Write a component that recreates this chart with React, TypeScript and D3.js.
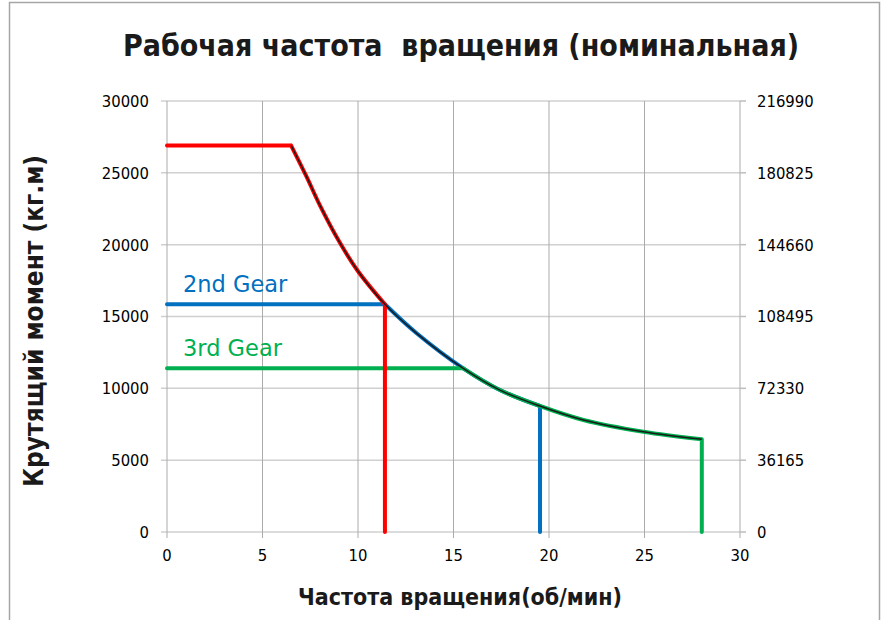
import React from "react";
import * as d3 from "d3";

// chart values
const xTicks = [0, 5, 10, 15, 20, 25, 30];
const yTicks = [0, 5000, 10000, 15000, 20000, 25000, 30000];
const rightTickLabels = ["0", "36165", "72330", "108495", "144660", "180825", "216990"];

// constant power curve (об/мин, кг.м)
const curveRpm = [6.5, 7.3, 8.0, 9.0, 10.0, 11.41, 13.07, 15.51, 17.43, 19.53, 21.8, 24.94, 28.0];
const curveTorque = [26900, 24750, 22750, 20250, 18150, 15850, 13830, 11390, 9880, 8770, 7800, 6980, 6450];

// gears: flat torque level, start of curve portion, cut-off speed
const gearNames = ["1st Gear", "2nd Gear", "3rd Gear"];
const gearTorque = [26900, 15850, 11390];
const gearCurveStart = [6.5, 11.41, 15.51];
const gearCutoff = [11.41, 19.53, 28.0];
const gearColors = ["#ff0000", "#0070c0", "#00b050"];

const W = 884;
const H = 620;
const FONT = "'DejaVu Sans Condensed', 'DejaVu Sans', sans-serif";

const x = d3.scaleLinear().domain([0, 30]).range([167, 740]);
const y = d3.scaleLinear().domain([0, 30000]).range([532, 101]);

const curvePts: [number, number][] = curveRpm.map((n, i) => [n, curveTorque[i]]);

const torqueAt = (n: number) => {
  const i = Math.max(1, d3.bisectLeft(curveRpm, n));
  const t = (n - curveRpm[i - 1]) / (curveRpm[i] - curveRpm[i - 1]);
  return curveTorque[i - 1] + t * (curveTorque[i] - curveTorque[i - 1]);
};

const line = d3
  .line<[number, number]>()
  .x((d) => x(d[0]))
  .y((d) => y(d[1]))
  .curve(d3.curveCatmullRom.alpha(0.5));

function gearPath(g: number) {
  const from = gearCurveStart[g];
  const to = gearCutoff[g];
  const pts: [number, number][] = [[from, torqueAt(from)]];
  curvePts.forEach((p) => {
    if (p[0] > from + 1e-6 && p[0] < to - 1e-6) pts.push(p);
  });
  pts.push([to, torqueAt(to)]);
  const flat = `M${x(0)},${y(gearTorque[g])}L${x(from)},${y(pts[0][1])}`;
  const drop = `M${x(to)},${y(pts[pts.length - 1][1])}L${x(to)},${y(0)}`;
  return flat + line(pts) + drop;
}

export default function App() {
  const order = [1, 2, 0];
  return (
    <svg
      width={W}
      height={H}
      style={{ position: "absolute", left: 0, top: 0, background: "#fff" }}
      fontFamily={FONT}
    >
      <rect x={9.5} y={2.5} width={870} height={640} fill="#fff" stroke="#a6a6a6" strokeWidth={1.5} />

      {/* grid */}
      {yTicks.map((t) => (
        <line key={"h" + t} x1={161} x2={740} y1={y(t)} y2={y(t)} stroke="#d0d0d0" strokeWidth={1.5} />
      ))}
      {xTicks.map((t) => (
        <line key={"v" + t} x1={x(t)} x2={x(t)} y1={y(30000)} y2={538} stroke="#ababab" strokeWidth={1} />
      ))}
      {/* right axis */}
      {yTicks.map((t) => (
        <line key={"r" + t} x1={740} x2={746} y1={y(t)} y2={y(t)} stroke="#bdbdbd" strokeWidth={1.5} />
      ))}

      {/* tick labels */}
      {yTicks.map((t) => (
        <text key={"yl" + t} x={149} y={y(t)} dy="0.36em" textAnchor="end" fontSize={16.5} fill="#000">
          {t}
        </text>
      ))}
      {yTicks.map((t, i) => (
        <text key={"yr" + t} x={757} y={y(t)} dy="0.36em" textAnchor="start" fontSize={16.5} fill="#000">
          {rightTickLabels[i]}
        </text>
      ))}
      {xTicks.map((t) => (
        <text key={"xl" + t} x={x(t)} y={561} textAnchor="middle" fontSize={16.5} fill="#000">
          {t}
        </text>
      ))}

      {/* gear lines */}
      {order.map((g) => (
        <path
          key={"g" + g}
          d={gearPath(g)}
          fill="none"
          stroke={gearColors[g]}
          strokeWidth={4}
          strokeLinecap="round"
          strokeLinejoin="round"
        />
      ))}
      <path d={line(curvePts) || ""} fill="none" stroke="#1a1a1a" strokeWidth={1.5} />

      {/* gear labels */}
      {[1, 2].map((g) => (
        <text
          key={"gl" + g}
          x={183}
          y={y(gearTorque[g]) - 12}
          fontSize={22.5}
          fontFamily="'DejaVu Sans', sans-serif"
          fill={gearColors[g]}
        >
          {gearNames[g]}
        </text>
      ))}

      {/* titles */}
      <text
        x={461}
        y={56}
        textAnchor="middle"
        fontSize={30}
        fontWeight="bold"
        fill="#1a1a1a"
        style={{ whiteSpace: "pre" }}
      >
        {"Рабочая частота  вращения (номинальная)"}
      </text>
      <text x={460} y={605} textAnchor="middle" fontSize={23} fontWeight="bold" fill="#1a1a1a">
        Частота вращения(об/мин)
      </text>
      <text
        transform="translate(43,321) rotate(-90)"
        textAnchor="middle"
        fontSize={26}
        fontWeight="bold"
        fill="#1a1a1a"
      >
        Крутящий момент (кг.м)
      </text>
    </svg>
  );
}
